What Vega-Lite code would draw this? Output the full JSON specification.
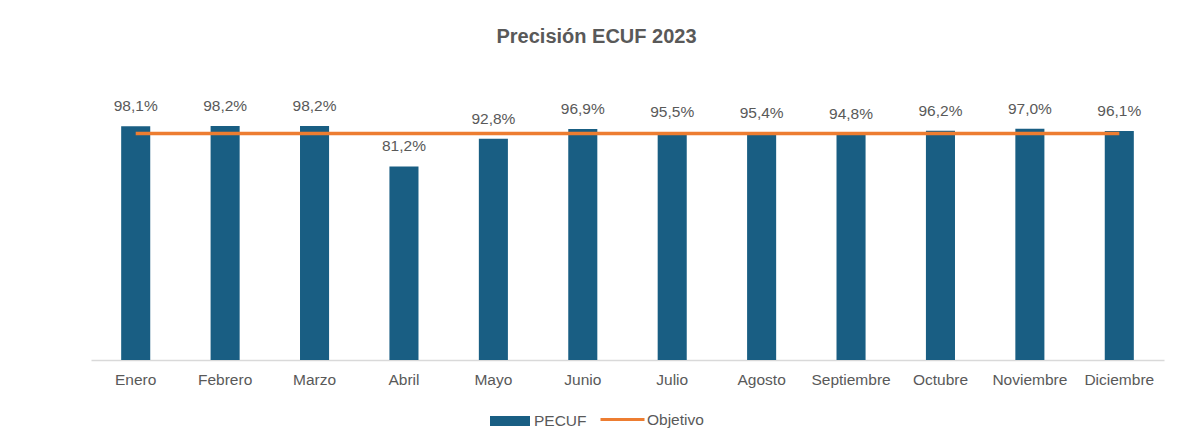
{
  "$schema": "https://vega.github.io/schema/vega-lite/v6.json",
  "autosize": "none",
  "width": 1073,
  "height": 286,
  "padding": {"left": 91, "top": 74, "right": 13, "bottom": 86},
  "background": "white",
  "title": {
    "text": "Precisión ECUF 2023",
    "fontSize": 20,
    "font": "Liberation Sans",
    "fontWeight": "bold",
    "color": "#595959",
    "anchor": "middle",
    "dx": -31,
    "offset": 27
  },
  "data": {
    "values": [
      {"mes": "Enero", "pecuf": 0.981, "objetivo": 0.95, "s1": "PECUF", "s2": "Objetivo"},
      {"mes": "Febrero", "pecuf": 0.982, "objetivo": 0.95, "s1": "PECUF", "s2": "Objetivo"},
      {"mes": "Marzo", "pecuf": 0.982, "objetivo": 0.95, "s1": "PECUF", "s2": "Objetivo"},
      {"mes": "Abril", "pecuf": 0.812, "objetivo": 0.95, "s1": "PECUF", "s2": "Objetivo"},
      {"mes": "Mayo", "pecuf": 0.928, "objetivo": 0.95, "s1": "PECUF", "s2": "Objetivo"},
      {"mes": "Junio", "pecuf": 0.969, "objetivo": 0.95, "s1": "PECUF", "s2": "Objetivo"},
      {"mes": "Julio", "pecuf": 0.955, "objetivo": 0.95, "s1": "PECUF", "s2": "Objetivo"},
      {"mes": "Agosto", "pecuf": 0.954, "objetivo": 0.95, "s1": "PECUF", "s2": "Objetivo"},
      {"mes": "Septiembre", "pecuf": 0.948, "objetivo": 0.95, "s1": "PECUF", "s2": "Objetivo"},
      {"mes": "Octubre", "pecuf": 0.962, "objetivo": 0.95, "s1": "PECUF", "s2": "Objetivo"},
      {"mes": "Noviembre", "pecuf": 0.970, "objetivo": 0.95, "s1": "PECUF", "s2": "Objetivo"},
      {"mes": "Diciembre", "pecuf": 0.961, "objetivo": 0.95, "s1": "PECUF", "s2": "Objetivo"}
    ]
  },
  "encoding": {
    "x": {
      "field": "mes",
      "type": "nominal",
      "sort": null,
      "scale": {"paddingInner": 0.675, "paddingOuter": 0.3375},
      "axis": {
        "title": null,
        "labelAngle": 0,
        "ticks": false,
        "domainColor": "#D9D9D9",
        "domainWidth": 1.5,
        "labelColor": "#595959",
        "labelFont": "Liberation Sans",
        "labelFontSize": 15.5,
        "labelPadding": 12,
        "grid": false
      }
    }
  },
  "layer": [
    {
      "mark": {"type": "bar", "color": "#195E83"},
      "encoding": {
        "y": {"field": "pecuf", "type": "quantitative", "scale": {"domain": [0, 1.2], "nice": false}, "axis": null},
        "fill": {
          "field": "s1",
          "type": "nominal",
          "scale": {"range": ["#195E83"]},
          "legend": {
            "title": null,
            "orient": "none",
            "legendX": 399,
            "legendY": 327,
            "symbolType": "M-1,-0.25H1V0.25H-1Z",
            "symbolSize": 1600,
            "symbolStrokeWidth": 0,
            "labelColor": "#595959",
            "labelFont": "Liberation Sans",
            "labelFontSize": 15.5,
            "labelOffset": 4
          }
        }
      }
    },
    {
      "mark": {"type": "text", "baseline": "alphabetic", "dy": -15, "fontSize": 15.5, "font": "Liberation Sans", "color": "#595959"},
      "encoding": {
        "y": {"field": "pecuf", "type": "quantitative"},
        "text": {"field": "pecuf", "type": "quantitative", "format": ".1%"}
      }
    },
    {
      "mark": {"type": "line", "strokeWidth": 3.5},
      "encoding": {
        "y": {"field": "objetivo", "type": "quantitative"},
        "stroke": {
          "field": "s2",
          "type": "nominal",
          "scale": {"range": ["#ED7D31"]},
          "legend": {
            "title": null,
            "orient": "none",
            "legendX": 508,
            "legendY": 322,
            "symbolType": "stroke",
            "symbolSize": 1936,
            "symbolStrokeWidth": 3,
            "labelColor": "#595959",
            "labelFont": "Liberation Sans",
            "labelFontSize": 15.5,
            "labelOffset": 1
          }
        }
      }
    }
  ],
  "config": {
    "locale": {
      "number": {"decimal": ",", "thousands": ".", "grouping": [3], "currency": ["", " €"]}
    },
    "view": {"stroke": null}
  }
}
